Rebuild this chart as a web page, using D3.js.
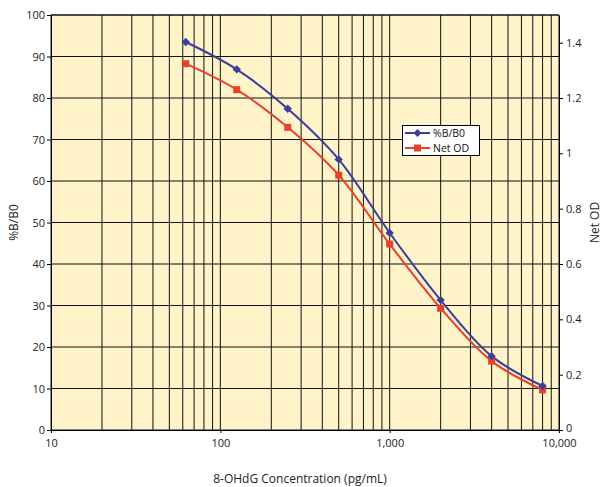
<!DOCTYPE html>
<html>
<head>
<meta charset="utf-8">
<script src="https://cdn.jsdelivr.net/npm/d3@7"></script>
<style>
  html, body { margin: 0; padding: 0; background: #fff; }
  svg { display: block; font-family: "Open Sans", sans-serif; }
</style>
</head>
<body>
<svg id="chart" width="608" height="487"></svg>
<script>
// ---- data ----
const concentrations = [62.5, 125, 250, 500, 1000, 2000, 4000, 8000];
const pctB = [93.5, 86.9, 77.4, 65.2, 47.5, 31.3, 17.8, 10.6];
const netOD = [1.324, 1.230, 1.094, 0.921, 0.672, 0.440, 0.249, 0.145];
const xTicks = [10, 100, 1000, 10000];
const xTickLabels = ["10", "100", "1,000", "10,000"];
const leftTicks = [0, 10, 20, 30, 40, 50, 60, 70, 80, 90, 100];
const rightTicks = [0, 0.2, 0.4, 0.6, 0.8, 1, 1.2, 1.4];
const seriesNames = ["%B/B0", "Net OD"];

(function () {
const svg = d3.select("#chart");
const pL = 51, pR = 559, pT = 15, pB = 430;

const x = d3.scaleLog().domain([10, 10000]).range([pL, pR]);
const yL = d3.scaleLinear().domain([0, 100]).range([pB, pT]);
const yR = d3.scaleLinear().domain([0, 1.5]).range([pB, pT]);

const bg = "#FFF3C9", blue = "#3B3F9C", red = "#E8412B";

svg.append("rect").attr("x", pL).attr("y", pT)
  .attr("width", pR - pL).attr("height", pB - pT).attr("fill", bg);

// vertical gridlines (log minor)
const vGrid = [];
[10, 100, 1000].forEach(d => { for (let k = 1; k <= 9; k++) vGrid.push(k * d); });
vGrid.push(10000);
svg.append("g").selectAll("line").data(vGrid).join("line")
  .attr("x1", d => x(d)).attr("x2", d => x(d))
  .attr("y1", pT).attr("y2", pB)
  .attr("stroke", "#111").attr("stroke-width", 1);

// horizontal gridlines
svg.append("g").selectAll("line").data(leftTicks).join("line")
  .attr("x1", pL).attr("x2", pR)
  .attr("y1", d => yL(d)).attr("y2", d => yL(d))
  .attr("stroke", "#111").attr("stroke-width", 1);

// axes
const axL = svg.append("g").attr("transform", `translate(${pL},0)`)
  .call(d3.axisLeft(yL).tickValues(leftTicks).tickSize(4).tickSizeOuter(0).tickPadding(2));
const axR = svg.append("g").attr("transform", `translate(${pR},0)`)
  .call(d3.axisRight(yR).tickValues(rightTicks).tickSize(4).tickSizeOuter(0).tickPadding(3)
    .tickFormat(d => d3.format("")(d)));
const axB = svg.append("g").attr("transform", `translate(0,${pB})`)
  .call(d3.axisBottom(x).tickValues(xTicks).tickSize(3).tickSizeOuter(0).tickPadding(6)
    .tickFormat((d, i) => xTickLabels[i]));
[axL, axR, axB].forEach(g => {
  g.selectAll("text").attr("font-size", 11).attr("fill", "#222")
    .attr("font-family", "'Open Sans', sans-serif");
  g.select(".domain").attr("stroke", "#000");
  g.selectAll(".tick line").attr("stroke", "#000");
});
// nudge right-axis "0" label up slightly so it clears "10,000"
axR.selectAll(".tick").filter(d => d === 0).select("text").attr("y", -2.5);

// top frame
svg.append("line").attr("x1", pL).attr("x2", pR).attr("y1", pT).attr("y2", pT)
  .attr("stroke", "#111");

// lines
const pts1 = concentrations.map((c, i) => [x(c), yL(pctB[i])]);
const pts2 = concentrations.map((c, i) => [x(c), yR(netOD[i])]);
const line = d3.line().curve(d3.curveCatmullRom.alpha(0.5));

svg.append("path").attr("d", line(pts2)).attr("fill", "none")
  .attr("stroke", red).attr("stroke-width", 2);
svg.append("path").attr("d", line(pts1)).attr("fill", "none")
  .attr("stroke", blue).attr("stroke-width", 2);

const diamond = (cx, cy, r) => `M${cx},${cy - r}L${cx + r},${cy}L${cx},${cy + r}L${cx - r},${cy}Z`;

svg.append("g").selectAll("rect").data(pts2).join("rect")
  .attr("x", d => d[0] - 3.5).attr("y", d => d[1] - 3.5)
  .attr("width", 7).attr("height", 7).attr("fill", red);
svg.append("g").selectAll("path").data(pts1).join("path")
  .attr("d", d => diamond(d[0], d[1], 4.2)).attr("fill", blue);

// legend
const lg = svg.append("g");
lg.append("rect").attr("x", 402.5).attr("y", 125.5).attr("width", 77).attr("height", 30)
  .attr("fill", "#fff").attr("stroke", "#000").attr("stroke-width", 1);
[[blue, 133], [red, 148]].forEach(([c, ly], i) => {
  lg.append("line").attr("x1", 405).attr("x2", 430).attr("y1", ly).attr("y2", ly)
    .attr("stroke", c).attr("stroke-width", 2);
  if (i === 0) lg.append("path").attr("d", diamond(417.5, ly, 4)).attr("fill", c);
  else lg.append("rect").attr("x", 414).attr("y", ly - 3.5).attr("width", 7).attr("height", 7).attr("fill", c);
  lg.append("text").attr("x", 433).attr("y", ly).attr("dy", "0.35em")
    .attr("font-size", 10.5).attr("fill", "#111").text(seriesNames[i]);
});

// axis titles
svg.append("text").attr("transform", `translate(14,${(pT + pB) / 2}) rotate(-90)`)
  .attr("text-anchor", "middle").attr("dy", "0.35em").attr("font-size", 12).attr("fill", "#222")
  .text("%B/B0");
svg.append("text").attr("transform", `translate(595,${(pT + pB) / 2}) rotate(-90)`)
  .attr("text-anchor", "middle").attr("dy", "0.35em").attr("font-size", 12).attr("fill", "#222")
  .text("Net OD");
svg.append("text").attr("x", 300).attr("y", 479).attr("dy", "0.35em")
  .attr("text-anchor", "middle").attr("font-size", 12).attr("fill", "#222")
  .text("8-OHdG Concentration (pg/mL)");
})();
</script>
</body>
</html>
